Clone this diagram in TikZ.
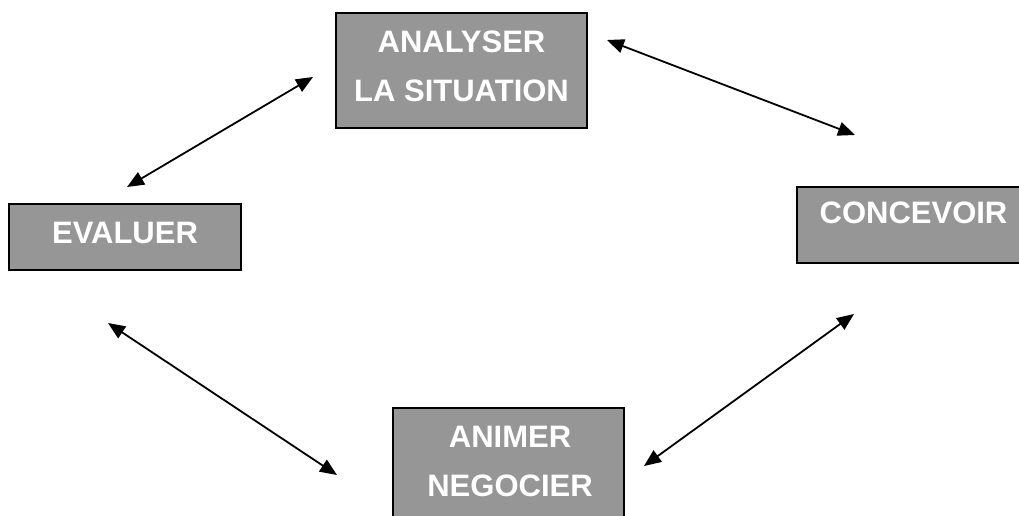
\documentclass[tikz,border=0pt]{standalone}
\usepackage{fontspec}
\setmainfont{Liberation Sans}
\usetikzlibrary{arrows.meta}
\definecolor{boxgray}{RGB}{150,150,150}

\begin{document}
\begin{tikzpicture}[x=1pt,y=-1pt]
    \tikzstyle{box}=[draw=black,line width=1.8pt,fill=boxgray,inner sep=0pt]
    \tikzstyle{box text}=[text=white,align=center,inner sep=0pt,font=\fontsize{31}{49}\selectfont\bfseries]
    \tikzstyle{link}=[{Triangle[length=17pt,width=14pt]}-{Triangle[length=17pt,width=14pt]},line width=1.8pt]
    \useasboundingbox (0,0) rectangle (1019,516);
    % Draw the boxes
      \node[box, minimum width=251pt, minimum height=115pt] (analyser) at (461.5,70.5) {};
      \node[box text] (analyser text) at (461.5,66.5) {ANALYSER\\LA SITUATION};
      \node[box, minimum width=232pt, minimum height=66pt] (evaluer) at (125,237) {};
      \node[box text] (evaluer text) at (125,232.5) {EVALUER};
      \node[box, minimum width=240pt, minimum height=76pt] (concevoir) at (917,225) {};
      \node[box text] (concevoir text) at (913.5,212.5) {CONCEVOIR};
      \node[box, minimum width=231pt, minimum height=130pt] (animer) at (508.5,473) {};
      \node[box text] (animer text) at (510,461.5) {ANIMER\\NEGOCIER};
    % Arrow ends
      \coordinate (A1) at (313,77);
      \coordinate (E1) at (127,187);
      \coordinate (A2) at (607,40);
      \coordinate (C1) at (855,135);
      \coordinate (E2) at (108,323);
      \coordinate (N1) at (337,475);
      \coordinate (C2) at (854,314);
      \coordinate (N2) at (644,466);
    % Draw the arrows
      \draw[link] (A1) -- (E1);
      \draw[link] (A2) -- (C1);
      \draw[link] (E2) -- (N1);
      \draw[link] (C2) -- (N2);
\end{tikzpicture}
\end{document}
